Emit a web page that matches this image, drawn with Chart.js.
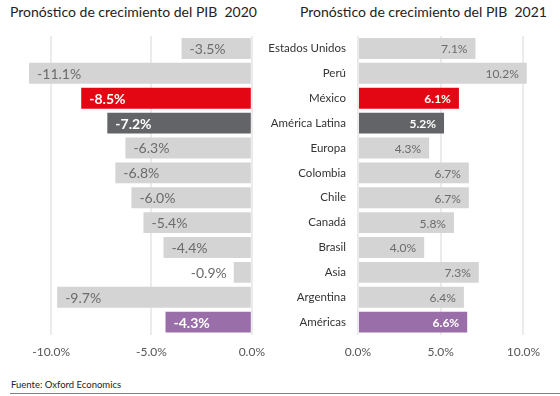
<!DOCTYPE html>
<html>
<head>
<meta charset="utf-8">
<script src="https://cdn.jsdelivr.net/npm/chart.js@4"></script>
<style>
  html, body { margin: 0; padding: 0; background: #fff; }
  #wrap { position: relative; width: 560px; height: 396px; overflow: hidden; font-family: Lato, 'Open Sans', sans-serif; }
  .title { position: absolute; top: 3px; font-size: 14px; color: #222; white-space: pre; }
  #c2020 { position: absolute; left: 0; top: 0; }
  #c2021 { position: absolute; left: 260px; top: 0; }
  #source { position: absolute; left: 11px; top: 379px; font-size: 9.5px; color: #222; }
  #rule { position: absolute; left: 10px; right: 0; top: 393px; height: 1px; background: #808080; }
</style>
</head>
<body>
<div id="wrap">
  <div class="title" style="left:10px">Pronóstico de crecimiento del PIB  2020</div>
  <div class="title" style="left:300px">Pronóstico de crecimiento del PIB  2021</div>
  <canvas id="c2020" width="275" height="379"></canvas>
  <canvas id="c2021" width="300" height="379"></canvas>
  <div id="source">Fuente: Oxford Economics</div>
  <div id="rule"></div>
</div>
<script>
'use strict';

// ===== Data =====
const categories = ['Estados Unidos', 'Perú', 'México', 'América Latina', 'Europa', 'Colombia',
                    'Chile', 'Canadá', 'Brasil', 'Asia', 'Argentina', 'Américas'];
const gdp2020 = [-3.5, -11.1, -8.5, -7.2, -6.3, -6.8, -6.0, -5.4, -4.4, -0.9, -9.7, -4.3];
const gdp2021 = [7.1, 10.2, 6.1, 5.2, 4.3, 6.7, 6.7, 5.8, 4.0, 7.3, 6.4, 6.6];
const ticks2020 = [-10, -5, 0];
const ticks2021 = [0, 5, 10];

// ===== Styles =====
const grey = '#d4d4d5';
const highlight = { 'México': '#e30613', 'América Latina': '#636467', 'Américas': '#9a6ea8' };
const barColors = categories.map(c => highlight[c] || grey);
const labelGrey = '#6b6b6b';
const gridColor = '#ebebeb';
const font = "Lato, 'Open Sans', sans-serif";

Chart.defaults.font.family = font;
Chart.defaults.animation = false;

const pct = v => v.toFixed(1) + '%';

// value labels drawn at bar tips
const valueLabels = {
  id: 'valueLabels',
  afterDatasetsDraw(chart, args, opts) {
    const ctx = chart.ctx;
    const meta = chart.getDatasetMeta(0);
    const data = chart.data.datasets[0].data;
    ctx.save();
    ctx.textBaseline = 'middle';
    meta.data.forEach((bar, i) => {
      const hl = !!highlight[categories[i]];
      ctx.font = (hl ? 'bold ' : '') + opts.size + 'px ' + font;
      const text = pct(data[i]);
      const w = ctx.measureText(text).width;
      const len = Math.abs(bar.x - bar.base);
      ctx.fillStyle = hl ? '#fff' : labelGrey;
      if (opts.side === 'left') {
        if (len > w + 12) { ctx.textAlign = 'left'; ctx.fillText(text, bar.x + 8, bar.y + 1); }
        else { ctx.textAlign = 'right'; ctx.fillStyle = labelGrey; ctx.fillText(text, bar.x - 7, bar.y + 1); }
      } else {
        ctx.textAlign = 'right';
        ctx.fillText(text, bar.x - 8, bar.y + 1);
      }
    });
    ctx.restore();
  }
};

function xScale(min, max, tickValues) {
  return {
    min: min, max: max,
    afterBuildTicks: axis => { axis.ticks = tickValues.map(v => ({ value: v })); },
    grid: { color: gridColor, lineWidth: 2, drawTicks: false },
    border: { display: false },
    ticks: { color: '#555', font: { size: 12 }, padding: 10, callback: v => pct(v) }
  };
}

// ===== 2020 =====
new Chart(document.getElementById('c2020'), {
  type: 'bar',
  data: {
    labels: categories,
    datasets: [{ data: gdp2020, backgroundColor: barColors, barPercentage: 0.84, categoryPercentage: 1 }]
  },
  options: {
    indexAxis: 'y', responsive: false,
    layout: { padding: { top: 36, left: 11, right: 14, bottom: 10 } },
    plugins: { legend: { display: false }, tooltip: { enabled: false },
               valueLabels: { side: 'left', size: 14 } },
    scales: {
      x: xScale(-12, 0, ticks2020),
      y: { display: false }
    }
  },
  plugins: [valueLabels]
});

// ===== 2021 =====
new Chart(document.getElementById('c2021'), {
  type: 'bar',
  data: {
    labels: categories,
    datasets: [{ data: gdp2021, backgroundColor: barColors, barPercentage: 0.84, categoryPercentage: 1 }]
  },
  options: {
    indexAxis: 'y', responsive: false,
    layout: { padding: { top: 36, left: 0, right: 20, bottom: 10 } },
    plugins: { legend: { display: false }, tooltip: { enabled: false },
               valueLabels: { side: 'right', size: 12 } },
    scales: {
      x: xScale(0, 11, ticks2021),
      y: {
        afterFit: scale => { scale.width = 98; },
        grid: { display: false, drawTicks: false },
        border: { display: false },
        ticks: { color: '#333', font: { size: 11.5 }, padding: 12 }
      }
    }
  },
  plugins: [valueLabels]
});
</script>
</body>
</html>
